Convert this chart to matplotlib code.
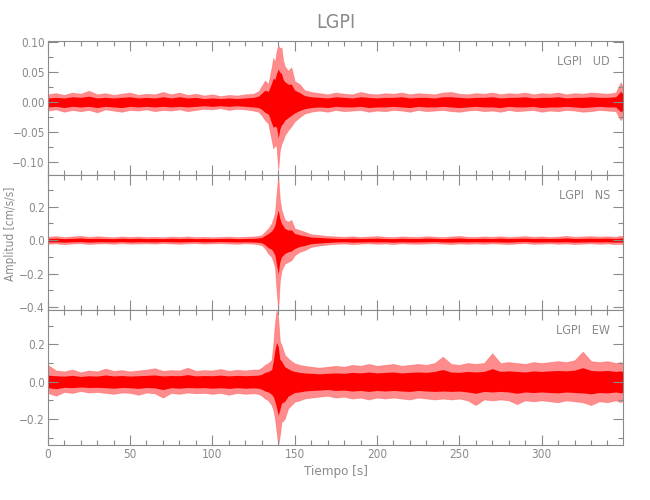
import matplotlib
matplotlib.use("Agg")
import matplotlib.pyplot as plt
from matplotlib.ticker import MultipleLocator

t_s = [0, 5, 10, 15, 20, 25, 30, 35, 40, 45, 50, 55, 60,
       65, 70, 75, 80, 85, 90, 95, 100, 105, 110, 115, 120, 125,
       128, 130, 132, 134, 136, 137, 138, 139, 140, 141, 142, 143, 144, 146, 148, 150, 153, 156, 160,
       165, 170, 175, 180, 185, 190, 195, 200, 205, 210, 215, 220, 225, 230, 235, 240, 245, 250, 255,
       260, 265, 270, 275, 280, 285, 290, 295, 300, 305, 310, 315, 320, 325, 330, 335, 340, 345, 348, 350]

# UD component: outer envelope (max/min) and dense core
ud_max = [0.013, 0.015, 0.012, 0.016, 0.014, 0.019, 0.013, 0.015, 0.012, 0.014, 0.016, 0.012, 0.014,
          0.013, 0.017, 0.013, 0.016, 0.012, 0.014, 0.011, 0.013, 0.010, 0.012, 0.011, 0.013, 0.014,
          0.018, 0.027, 0.036, 0.030, 0.058, 0.074, 0.066, 0.085, 0.095, 0.090, 0.091, 0.069, 0.060, 0.052, 0.058, 0.035, 0.030, 0.020, 0.017,
          0.015, 0.013, 0.016, 0.014, 0.013, 0.017, 0.014, 0.013, 0.015, 0.014, 0.016, 0.013, 0.015, 0.014, 0.013, 0.016, 0.017, 0.014, 0.013,
          0.015, 0.014, 0.016, 0.013, 0.015, 0.014, 0.016, 0.013, 0.015, 0.014, 0.016, 0.013, 0.015, 0.014, 0.016, 0.015, 0.014, 0.016, 0.033, 0.022]
ud_min = [-0.014, -0.012, -0.016, -0.013, -0.015, -0.013, -0.017, -0.012, -0.014, -0.016, -0.013, -0.014, -0.012,
          -0.015, -0.013, -0.014, -0.012, -0.015, -0.013, -0.011, -0.012, -0.010, -0.013, -0.011, -0.012, -0.014,
          -0.016, -0.022, -0.030, -0.036, -0.063, -0.077, -0.072, -0.074, -0.113, -0.080, -0.069, -0.063, -0.055, -0.047, -0.040, -0.032, -0.025, -0.019, -0.016,
          -0.014, -0.016, -0.013, -0.015, -0.014, -0.013, -0.016, -0.014, -0.015, -0.013, -0.014, -0.016, -0.013, -0.015, -0.014, -0.013, -0.015, -0.016, -0.014,
          -0.013, -0.015, -0.014, -0.016, -0.013, -0.015, -0.014, -0.013, -0.016, -0.014, -0.015, -0.013, -0.014, -0.016, -0.015, -0.013, -0.014, -0.015, -0.030, -0.022]
ud_core_max = [0.007, 0.008, 0.007, 0.009, 0.008, 0.010, 0.007, 0.008, 0.007, 0.008, 0.009, 0.007, 0.008,
               0.007, 0.009, 0.007, 0.009, 0.007, 0.008, 0.006, 0.007, 0.006, 0.007, 0.006, 0.007, 0.008,
               0.010, 0.015, 0.020, 0.018, 0.032, 0.040, 0.038, 0.048, 0.055, 0.050, 0.048, 0.038, 0.034, 0.030, 0.030, 0.020, 0.016, 0.011, 0.009,
               0.008, 0.007, 0.009, 0.008, 0.007, 0.009, 0.008, 0.007, 0.008, 0.008, 0.009, 0.007, 0.008, 0.008, 0.007, 0.009, 0.009, 0.008, 0.007,
               0.008, 0.008, 0.009, 0.007, 0.008, 0.008, 0.009, 0.007, 0.008, 0.008, 0.009, 0.007, 0.008, 0.008, 0.009, 0.008, 0.008, 0.009, 0.018, 0.012]
ud_core_min = [-0.008, -0.007, -0.009, -0.007, -0.008, -0.007, -0.009, -0.007, -0.008, -0.009, -0.007, -0.008, -0.007,
               -0.008, -0.007, -0.008, -0.007, -0.008, -0.007, -0.006, -0.007, -0.006, -0.007, -0.006, -0.007, -0.008,
               -0.009, -0.012, -0.017, -0.020, -0.035, -0.042, -0.040, -0.042, -0.060, -0.045, -0.038, -0.035, -0.030, -0.026, -0.022, -0.018, -0.014, -0.011, -0.009,
               -0.008, -0.009, -0.007, -0.008, -0.008, -0.007, -0.009, -0.008, -0.008, -0.007, -0.008, -0.009, -0.007, -0.008, -0.008, -0.007, -0.008, -0.009, -0.008,
               -0.007, -0.008, -0.008, -0.009, -0.007, -0.008, -0.008, -0.007, -0.009, -0.008, -0.008, -0.007, -0.008, -0.009, -0.008, -0.007, -0.008, -0.008, -0.016, -0.012]

# NS component
ns_max = [0.020, 0.024, 0.018, 0.022, 0.026, 0.019, 0.023, 0.020, 0.017, 0.022, 0.019, 0.021, 0.018,
          0.020, 0.017, 0.021, 0.019, 0.022, 0.018, 0.020, 0.017, 0.019, 0.021, 0.018, 0.020, 0.022,
          0.025, 0.030, 0.050, 0.070, 0.100, 0.130, 0.160, 0.280, 0.387, 0.238, 0.180, 0.150, 0.120, 0.110, 0.120, 0.070, 0.060, 0.050, 0.035,
          0.030, 0.025, 0.022, 0.020, 0.023, 0.019, 0.021, 0.024, 0.020, 0.018, 0.022, 0.020, 0.019, 0.023, 0.021, 0.018, 0.022, 0.025, 0.020,
          0.019, 0.022, 0.020, 0.023, 0.019, 0.021, 0.024, 0.020, 0.022, 0.019, 0.021, 0.025, 0.020, 0.022, 0.024, 0.021, 0.023, 0.020, 0.026, 0.024]
ns_min = [-0.022, -0.019, -0.024, -0.020, -0.018, -0.023, -0.020, -0.019, -0.022, -0.018, -0.021, -0.020, -0.019,
          -0.021, -0.018, -0.020, -0.022, -0.019, -0.018, -0.021, -0.019, -0.018, -0.020, -0.022, -0.019, -0.021,
          -0.025, -0.030, -0.050, -0.080, -0.100, -0.130, -0.160, -0.300, -0.417, -0.240, -0.180, -0.160, -0.140, -0.130, -0.120, -0.090, -0.070, -0.060, -0.040,
          -0.032, -0.026, -0.022, -0.020, -0.024, -0.021, -0.019, -0.022, -0.020, -0.023, -0.019, -0.021, -0.022, -0.020, -0.018, -0.021, -0.023, -0.020, -0.022,
          -0.020, -0.022, -0.019, -0.021, -0.023, -0.020, -0.018, -0.022, -0.021, -0.019, -0.022, -0.020, -0.023, -0.021, -0.019, -0.022, -0.020, -0.024, -0.022, -0.025]
ns_core_max = [0.010, 0.012, 0.009, 0.011, 0.013, 0.010, 0.011, 0.010, 0.009, 0.011, 0.010, 0.011, 0.009,
               0.010, 0.009, 0.011, 0.010, 0.011, 0.009, 0.010, 0.009, 0.010, 0.011, 0.009, 0.010, 0.011,
               0.013, 0.016, 0.028, 0.040, 0.055, 0.070, 0.090, 0.140, 0.180, 0.130, 0.100, 0.085, 0.070, 0.060, 0.062, 0.040, 0.032, 0.026, 0.018,
               0.016, 0.013, 0.011, 0.010, 0.012, 0.010, 0.011, 0.012, 0.010, 0.009, 0.011, 0.010, 0.010, 0.012, 0.011, 0.009, 0.011, 0.013, 0.010,
               0.010, 0.011, 0.010, 0.012, 0.010, 0.011, 0.012, 0.010, 0.011, 0.010, 0.011, 0.013, 0.010, 0.011, 0.012, 0.011, 0.012, 0.010, 0.013, 0.012]
ns_core_min = [-0.011, -0.010, -0.012, -0.010, -0.009, -0.012, -0.010, -0.010, -0.011, -0.009, -0.011, -0.010, -0.010,
               -0.011, -0.009, -0.010, -0.011, -0.010, -0.009, -0.011, -0.010, -0.009, -0.010, -0.011, -0.010, -0.011,
               -0.013, -0.016, -0.028, -0.045, -0.055, -0.070, -0.090, -0.150, -0.200, -0.130, -0.100, -0.090, -0.080, -0.070, -0.065, -0.050, -0.038, -0.032, -0.021,
               -0.017, -0.014, -0.011, -0.010, -0.012, -0.011, -0.010, -0.011, -0.010, -0.012, -0.010, -0.011, -0.011, -0.010, -0.009, -0.011, -0.012, -0.010, -0.011,
               -0.010, -0.011, -0.010, -0.011, -0.012, -0.010, -0.009, -0.011, -0.011, -0.010, -0.011, -0.010, -0.012, -0.011, -0.010, -0.011, -0.010, -0.012, -0.011, -0.013]

# EW component
ew_max = [0.090, 0.060, 0.055, 0.065, 0.050, 0.060, 0.055, 0.070, 0.058, 0.062, 0.055, 0.060, 0.065,
          0.072, 0.058, 0.062, 0.060, 0.075, 0.058, 0.062, 0.060, 0.068, 0.058, 0.064, 0.060, 0.065,
          0.065, 0.075, 0.090, 0.100, 0.116, 0.200, 0.313, 0.384, 0.340, 0.215, 0.197, 0.170, 0.143, 0.125, 0.110, 0.098, 0.090, 0.085, 0.080,
          0.075, 0.080, 0.085, 0.080, 0.090, 0.085, 0.095, 0.085, 0.090, 0.095, 0.085, 0.090, 0.095, 0.090, 0.100, 0.134, 0.095, 0.090, 0.100,
          0.095, 0.100, 0.152, 0.100, 0.105, 0.100, 0.095, 0.105, 0.100, 0.105, 0.110, 0.105, 0.115, 0.161, 0.110, 0.105, 0.110, 0.100, 0.105, 0.095]
ew_min = [-0.060, -0.075, -0.055, -0.060, -0.050, -0.058, -0.055, -0.060, -0.065, -0.058, -0.060, -0.070, -0.058,
          -0.062, -0.085, -0.060, -0.065, -0.058, -0.062, -0.060, -0.065, -0.060, -0.070, -0.060, -0.065, -0.062,
          -0.065, -0.075, -0.090, -0.100, -0.125, -0.150, -0.196, -0.268, -0.339, -0.286, -0.215, -0.210, -0.197, -0.143, -0.125, -0.107, -0.100, -0.090, -0.085,
          -0.080, -0.075, -0.085, -0.080, -0.090, -0.085, -0.095, -0.085, -0.090, -0.085, -0.090, -0.095, -0.085, -0.090, -0.095, -0.090, -0.095, -0.090, -0.100,
          -0.125, -0.095, -0.100, -0.095, -0.100, -0.120, -0.100, -0.105, -0.100, -0.105, -0.110, -0.100, -0.105, -0.110, -0.125, -0.105, -0.110, -0.100, -0.110, -0.100]
ew_core_max = [0.035, 0.032, 0.030, 0.034, 0.028, 0.032, 0.030, 0.036, 0.031, 0.033, 0.030, 0.032, 0.034,
               0.036, 0.031, 0.033, 0.032, 0.038, 0.031, 0.033, 0.032, 0.035, 0.031, 0.034, 0.032, 0.034,
               0.035, 0.040, 0.050, 0.055, 0.065, 0.110, 0.170, 0.210, 0.190, 0.120, 0.110, 0.095, 0.080, 0.070, 0.060, 0.055, 0.050, 0.047, 0.045,
               0.042, 0.045, 0.047, 0.045, 0.050, 0.047, 0.052, 0.047, 0.050, 0.052, 0.047, 0.050, 0.052, 0.050, 0.055, 0.065, 0.052, 0.050, 0.055,
               0.052, 0.055, 0.070, 0.055, 0.058, 0.055, 0.052, 0.058, 0.055, 0.058, 0.060, 0.058, 0.062, 0.075, 0.060, 0.058, 0.060, 0.055, 0.058, 0.052]
ew_core_min = [-0.032, -0.038, -0.030, -0.032, -0.028, -0.031, -0.030, -0.032, -0.035, -0.031, -0.032, -0.036, -0.031,
               -0.033, -0.042, -0.032, -0.035, -0.031, -0.033, -0.032, -0.035, -0.032, -0.036, -0.032, -0.035, -0.033,
               -0.035, -0.040, -0.050, -0.055, -0.068, -0.080, -0.105, -0.140, -0.180, -0.150, -0.115, -0.110, -0.105, -0.078, -0.068, -0.058, -0.055, -0.050, -0.047,
               -0.045, -0.042, -0.047, -0.045, -0.050, -0.047, -0.052, -0.047, -0.050, -0.047, -0.050, -0.052, -0.047, -0.050, -0.052, -0.050, -0.052, -0.050, -0.055,
               -0.062, -0.052, -0.055, -0.052, -0.055, -0.062, -0.055, -0.058, -0.055, -0.058, -0.060, -0.055, -0.058, -0.060, -0.065, -0.058, -0.060, -0.055, -0.060, -0.055]

station = "LGPI"
components = ["UD", "NS", "EW"]
gray = "#8a8a8a"

plt.rcParams["font.family"] = ["DejaVu Sans"]
plt.rcParams["font.stretch"] = "condensed"

fig = plt.figure(figsize=(6.5, 5), dpi=100)

left, width = 0.0734, 0.8855
panels = [
    # (bottom, height, ylim, major, minor)
    (0.6494, 0.2686, (-0.122, 0.102), 0.05, 0.025),
    (0.3800, 0.2694, (-0.417, 0.387), 0.2, 0.1),
    (0.1100, 0.2700, (-0.339, 0.384), 0.2, 0.1),
]
traces = [
    (ud_max, ud_min, ud_core_max, ud_core_min),
    (ns_max, ns_min, ns_core_max, ns_core_min),
    (ew_max, ew_min, ew_core_max, ew_core_min),
]

for i, (bottom, height, ylim, major, minor) in enumerate(panels):
    ax = fig.add_axes([left, bottom, width, height])
    hi, lo, chi, clo = traces[i]
    ax.fill_between(t_s, lo, hi, color="#ff0000", alpha=0.45, linewidth=0.6, edgecolor="#ff5050")
    ax.fill_between(t_s, clo, chi, color="#ff0000", linewidth=0)

    ax.set_xlim(0, 349.6)
    ax.set_ylim(*ylim)
    ax.xaxis.set_major_locator(MultipleLocator(50))
    ax.xaxis.set_minor_locator(MultipleLocator(10))
    ax.yaxis.set_major_locator(MultipleLocator(major))
    ax.yaxis.set_minor_locator(MultipleLocator(minor))
    if i == 0:
        ax.yaxis.set_major_formatter(lambda v, p: f"{v:.2f}".replace("-", "\u2212"))
    else:
        ax.yaxis.set_major_formatter(lambda v, p: f"{v:.1f}".replace("-", "\u2212"))

    ax.tick_params(which="both", direction="in", top=True, right=True,
                   color=gray, labelcolor=gray, labelsize=8.5, width=0.8)
    ax.tick_params(which="major", length=7, pad=2)
    ax.tick_params(which="minor", length=3.5)
    if i < 2:
        ax.tick_params(labelbottom=False)
    for sp in ax.spines.values():
        sp.set_color(gray)
        sp.set_linewidth(0.8)

    ax.text(0.977, 0.85, f"{station}   {components[i]}", transform=ax.transAxes,
            ha="right", va="center", color=gray, fontsize=9)

fig.text(0.517, 0.954, station, ha="center", va="center", color=gray, fontsize=14)
fig.text(0.517, 0.057, "Tiempo [s]", ha="center", va="center", color=gray, fontsize=9.5)
fig.text(0.016, 0.532, "Amplitud [cm/s/s]", ha="center", va="center", rotation=90,
         color=gray, fontsize=8.5)

fig.savefig("out.png", dpi=100)
